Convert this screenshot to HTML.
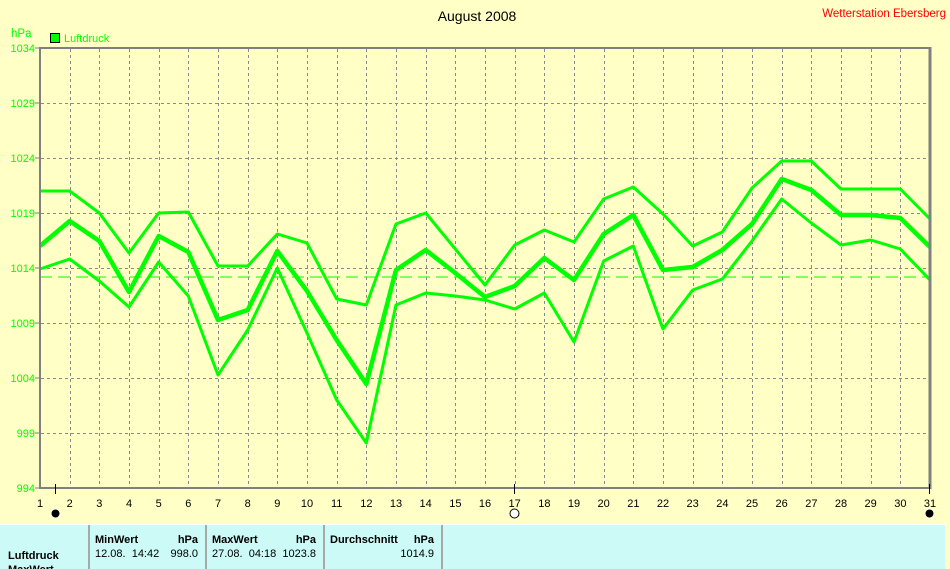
<!DOCTYPE html>
<html><head><meta charset="utf-8"><style>
html,body{margin:0;padding:0;background:#ffffc6;}
svg{display:block;font-family:"Liberation Sans",sans-serif;}
text{white-space:pre;}
</style></head><body>
<svg width="950" height="569" xmlns="http://www.w3.org/2000/svg" xml:space="preserve">
<rect width="950" height="569" fill="#ffffc6"/>
<text x="477" y="21" font-size="14" text-anchor="middle" fill="#000">August 2008</text>
<text x="946" y="17" font-size="11.5" text-anchor="end" fill="#ff0000">Wetterstation Ebersberg</text>
<text x="11" y="37" font-size="11.5" fill="#00ff00">hPa</text>
<rect x="50.5" y="33.5" width="9" height="9" fill="#00ff00" stroke="#000" stroke-width="1"/>
<text x="64" y="42" font-size="11" fill="#00ff00">Luftdruck</text>
<g id="grid" stroke="#8a8a8a" stroke-width="1" stroke-dasharray="3,3"></g>
<g id="ylab" font-size="11" fill="#00ff00" text-anchor="end"></g>
<g id="xlab" font-size="11" fill="#000" text-anchor="middle"></g>
<line x1="40" y1="277" x2="930" y2="277" stroke="#00ff00" stroke-width="1" stroke-dasharray="12,6"/>
<polyline id="pmax" fill="none" stroke="#00ff00" stroke-width="3" stroke-linejoin="round"/>
<polyline id="pmean" fill="none" stroke="#00ff00" stroke-width="4.5" stroke-linejoin="round"/>
<polyline id="pmin" fill="none" stroke="#00ff00" stroke-width="3" stroke-linejoin="round"/>
<line x1="40" y1="48" x2="931" y2="48" stroke="#808080" stroke-width="2"/>
<line x1="40" y1="47" x2="40" y2="489" stroke="#808080" stroke-width="2"/>
<line x1="930" y1="47" x2="930" y2="489" stroke="#808080" stroke-width="3"/>
<line x1="40" y1="488" x2="931" y2="488" stroke="#808080" stroke-width="2"/>
<line x1="55.5" y1="484" x2="55.5" y2="494" stroke="#000"/>
<line x1="514.5" y1="484" x2="514.5" y2="494" stroke="#000"/>
<line x1="929.5" y1="484" x2="929.5" y2="494" stroke="#000"/>
<circle cx="55.5" cy="513.5" r="4.5" fill="#000" stroke="#fff" stroke-width="1"/>
<circle cx="514.5" cy="513.5" r="4.5" fill="#fff" stroke="#000" stroke-width="1"/>
<circle cx="929.5" cy="513.5" r="4.5" fill="#000" stroke="#fff" stroke-width="1"/>
<rect x="0" y="524" width="945" height="45" fill="#ccfaf6"/>
<g stroke="#a8a8a8" stroke-width="2">
<line x1="89" y1="524" x2="89" y2="569"/><line x1="206" y1="524" x2="206" y2="569"/>
<line x1="324" y1="524" x2="324" y2="569"/><line x1="442" y1="524" x2="442" y2="569"/>
</g>
<line x1="0" y1="524.5" x2="945" y2="524.5" stroke="#fff"/>
<g font-size="11" fill="#000">
<text x="8" y="559" font-weight="bold">Luftdruck</text>
<text x="8" y="573" font-weight="bold">MaxWert</text>
<text x="95" y="543" font-weight="bold">MinWert</text><text x="198" y="543" font-weight="bold" text-anchor="end">hPa</text>
<text x="95" y="557">12.08.  14:42</text><text x="198" y="557" text-anchor="end">998.0</text>
<text x="212" y="543" font-weight="bold">MaxWert</text><text x="316" y="543" font-weight="bold" text-anchor="end">hPa</text>
<text x="212" y="557">27.08.  04:18</text><text x="316" y="557" text-anchor="end">1023.8</text>
<text x="330" y="543" font-weight="bold">Durchschnitt</text><text x="434" y="543" font-weight="bold" text-anchor="end">hPa</text>
<text x="434" y="557" text-anchor="end">1014.9</text>
</g>
<script>
(function(){
var ns="http://www.w3.org/2000/svg";
function el(p,n,a,t){var e=document.createElementNS(ns,n);for(var k in a)e.setAttribute(k,a[k]);if(t!=null)e.textContent=t;p.appendChild(e);}
var g=document.getElementById('grid'),yl=document.getElementById('ylab'),xl=document.getElementById('xlab');
function X(d){return 40+(d-1)*890/30;}
for(var d=2;d<=30;d++){var x=Math.round(X(d))+0.5;el(g,'line',{x1:x,y1:49,x2:x,y2:487});}
for(var d=1;d<=31;d++){el(xl,'text',{x:X(d),y:507},String(d));}
var vals=[1034,1029,1024,1019,1014,1009,1004,999,994];
vals.forEach(function(v,i){var y=48+(1034-v)*11;
 if(i>0&&i<8)el(g,'line',{x1:41,y1:y+0.5,x2:929,y2:y+0.5});
 el(yl,'text',{x:35,y:y+4},String(v));
 el(yl,'line',{x1:35,y1:y,x2:40,y2:y,stroke:'#808080'});
});
var mx=[191,191,213,253,213,212,266,266,234,243,299,305,224,213,249,285,245,230,242,199,187,214,246,232,188,161,161,189,189,189,219];
var me=[246,221,241,292,236,252,320,310,251,291,340,384,270,250,273,297,286,258,280,234,215,270,267,250,224,179,190,215,215,218,247];
var mn=[269,259,281,307,262,296,375,330,268,333,400,443,305,293,296,300,309,293,342,261,246,329,290,279,241,199,223,245,240,249,280];
function pts(a){return a.map(function(y,i){return X(i+1).toFixed(1)+','+y;}).join(' ');}
document.getElementById('pmax').setAttribute('points',pts(mx));
document.getElementById('pmean').setAttribute('points',pts(me));
document.getElementById('pmin').setAttribute('points',pts(mn));
})();
</script>
</svg>
</body></html>
